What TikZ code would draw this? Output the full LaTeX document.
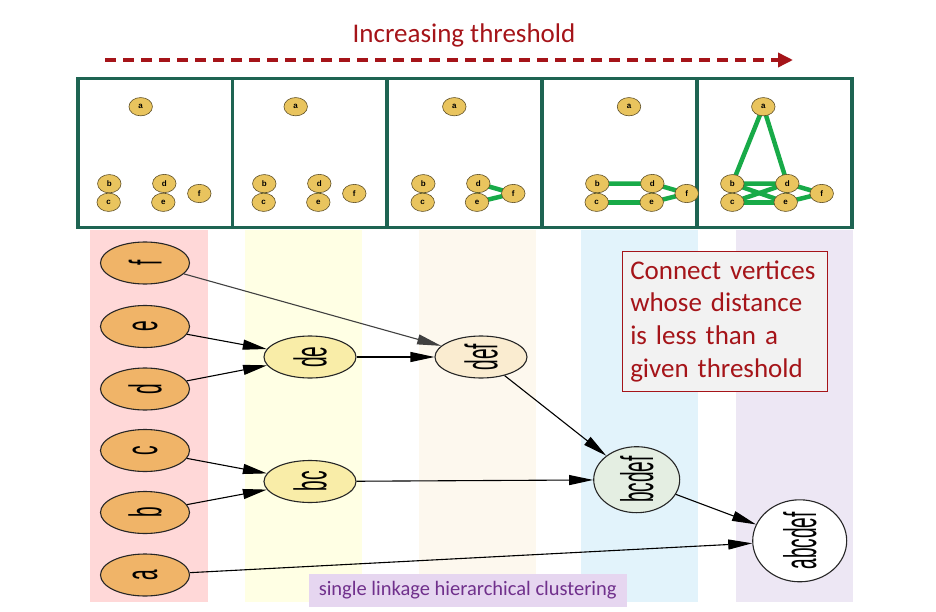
\documentclass[tikz,border=0pt]{standalone}
\usepackage{fontspec}
\usepackage{graphicx}
\setmainfont{Carlito}
\newfontfamily\gvfont{Liberation Sans}
\usetikzlibrary{shapes.geometric,arrows.meta}
\pgfdeclarelayer{bands}
\pgfdeclarelayer{edges}
\pgfsetlayers{bands,edges,main}
\definecolor{dred}{RGB}{165,20,25}
\definecolor{frameg}{RGB}{30,100,82}
\definecolor{ggreen}{RGB}{24,170,72}
\definecolor{gold}{RGB}{233,196,94}
\definecolor{goldline}{RGB}{95,80,40}
\definecolor{leafc}{RGB}{240,180,104}
\definecolor{deyel}{RGB}{249,237,168}
\definecolor{cream}{RGB}{250,236,208}
\definecolor{mint}{RGB}{228,238,226}
\definecolor{pinkb}{RGB}{255,216,216}
\definecolor{yelb}{RGB}{255,255,228}
\definecolor{beigeb}{RGB}{253,248,238}
\definecolor{blueb}{RGB}{226,243,251}
\definecolor{lavb}{RGB}{237,231,244}
\definecolor{boxgray}{RGB}{242,242,242}
\definecolor{lavlabel}{RGB}{230,214,240}
\definecolor{purplet}{RGB}{112,48,140}
\newcommand{\rlabel}[1]{\rotatebox{90}{\scalebox{1}[2.4]{\gvfont\fontsize{19}{19}\selectfont #1}}}
\newcommand{\pnodes}[7]{%
 \node[pn] (#1a) at (#2,106.7) {a};
 \node[pn] (#1b) at (#3,183.7) {b};
 \node[pn] (#1c) at (#4,202.3) {c};
 \node[pn] (#1d) at (#5,183.5) {d};
 \node[pn] (#1e) at (#6,202.3) {e};
 \node[pn] (#1f) at (#7,193.5) {f};}
\tikzset{
 pn/.style={ellipse, draw=goldline, line width=0.6pt, fill=gold, minimum width=23.5pt, minimum height=18.3pt, inner sep=0pt, font=\gvfont\bfseries\fontsize{8}{8}\selectfont},
 ge/.style={draw=ggreen, line width=4.5pt},
 leafn/.style={ellipse, draw=black!85, line width=1.1pt, fill=leafc, minimum width=89pt, minimum height=42pt, inner sep=0pt},
 innern/.style={ellipse, draw=black!85, line width=1.1pt, minimum width=92pt, minimum height=42pt, inner sep=0pt},
 gv/.style={draw=black, line width=1.1pt, -{Triangle[length=24pt,width=10pt]}}
}
\begin{document}
\begin{tikzpicture}[x=1pt,y=-1pt]
\useasboundingbox (0,0) rectangle (936,612);
% title and arrow
\node[text=dred, font=\fontsize{27}{32}\selectfont, anchor=base] (title) at (464,43) {Increasing threshold};
\coordinate (arrS) at (105,60);
\coordinate (arrE) at (793,60);
\draw[dred, line width=3.5pt, dash pattern=on 11pt off 7pt, -{Triangle[length=15pt,width=14pt]}] (arrS) -- (arrE);
% panel frame
\draw[frameg, line width=3.6pt] (78,78.5) rectangle (852,227.5);
\foreach \xx in {232.5,387,542,697} \draw[frameg, line width=3.6pt] (\xx,78.5) -- (\xx,227.5);
% panel nodes
\pnodes{p1}{140.7}{109.3}{108.7}{164.3}{163.3}{199.3}
\pnodes{p2}{295.7}{264.3}{263.7}{319.3}{318.3}{354.3}
\pnodes{p3}{454.3}{423.3}{422.7}{478.3}{477}{513.3}
\pnodes{p4}{629}{597.3}{596.7}{652.3}{651.7}{686.7}
\pnodes{p5}{763.3}{732.3}{732.3}{787.3}{785.7}{821.7}
\begin{pgfonlayer}{edges}
 \draw[ge] (p2b.center) -- (p2c.center);
 \draw[ge] (p2d.center) -- (p2e.center);
 \foreach \u/\v in {b/c,d/e,d/f,e/f} \draw[ge] (p3\u.center) -- (p3\v.center);
 \foreach \u/\v in {b/c,d/e,d/f,e/f,b/d,c/e} \draw[ge] (p4\u.center) -- (p4\v.center);
 \foreach \u/\v in {b/c,d/e,d/f,e/f,b/d,c/e,b/e,c/d,a/b,a/d} \draw[ge] (p5\u.center) -- (p5\v.center);
\end{pgfonlayer}
% bands
\begin{pgfonlayer}{bands}
 \fill[pinkb] (90,230) rectangle (208,602);
 \fill[yelb] (245,230) rectangle (362,602);
 \fill[beigeb] (419,230) rectangle (536,602);
 \fill[blueb] (581,230) rectangle (698,602);
 \fill[lavb] (736,230) rectangle (853,602);
\end{pgfonlayer}
% dendrogram nodes
\node[leafn] (f) at (145,263) {\rlabel{f}};
\node[leafn] (e) at (145,326.5) {\rlabel{e}};
\node[leafn] (d) at (145,389) {\rlabel{d}};
\node[leafn] (c) at (145,450.5) {\rlabel{c}};
\node[leafn] (b) at (145,512.5) {\rlabel{b}};
\node[leafn] (a) at (145,575) {\rlabel{a}};
\node[innern, fill=deyel] (de) at (310,357) {\rlabel{de}};
\node[innern, fill=deyel] (bc) at (310,481.5) {\rlabel{bc}};
\node[innern, fill=cream] (def) at (481,357) {\rlabel{def}};
\node[innern, fill=mint, minimum width=86pt, minimum height=66pt] (bcdef) at (636.7,479.7) {\rlabel{bcdef}};
\node[innern, fill=white, minimum width=94pt, minimum height=82pt] (abcdef) at (799.7,540.8) {\rlabel{abcdef}};
\draw[gv, draw=black!75] (f) -- (def);
\draw[gv] (e) -- (de);
\draw[gv] (d) -- (de);
\draw[gv] (de) -- (def);
\draw[gv] (def) -- (bcdef);
\draw[gv] (c) -- (bc);
\draw[gv] (b) -- (bc);
\draw[gv] (bc) -- (bcdef);
\draw[gv] (bcdef) -- (abcdef);
\draw[gv] (a) -- (abcdef);
% text box
\node[draw=dred, fill=boxgray, line width=0.9pt, text=dred, anchor=north west, text width=190pt, align=left, inner xsep=7.5pt, inner ysep=0pt, minimum height=139.7pt, font=\fontsize{27}{32.7}\selectfont] (note) at (622.3,251) {Connect vertices\\whose distance\\is less than a\\given threshold};
% label
\node[fill=lavlabel, text=purplet, anchor=north west, inner sep=0pt, minimum width=318.4pt, minimum height=33.4pt, font=\fontsize{20.5}{24}\selectfont] (lbl) at (308.3,573.3) {single linkage hierarchical clustering};
\end{tikzpicture}
\end{document}
